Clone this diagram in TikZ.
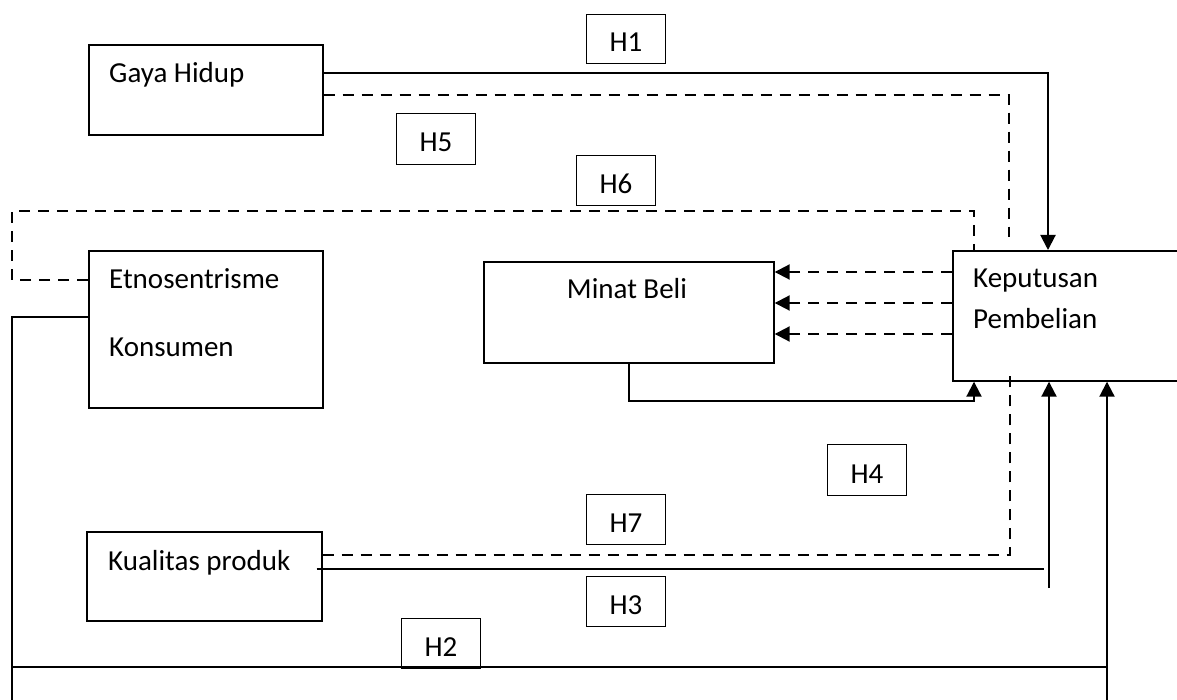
\documentclass[tikz,border=0pt]{standalone}
\usepackage{fontspec}
\setmainfont{Carlito}
\usetikzlibrary{arrows.meta,calc}
\begin{document}
\begin{tikzpicture}[x=1pt,y=-1pt,
  box/.style={draw, line width=1.7pt, rectangle, inner sep=0pt, anchor=north west},
  hbox/.style={draw, line width=1pt, rectangle, inner sep=0pt, anchor=north west,
    minimum width=79pt, minimum height=50pt, text height=26pt, text depth=0pt,
    font=\fontsize{29}{35}\selectfont},
  lbl/.style={anchor=base west, inner sep=0pt, font=\fontsize{29}{35}\selectfont},
  conn/.style={line width=2pt},
  dconn/.style={line width=2pt, dash pattern=on 11pt off 8pt},
  tip/.style={-{Triangle[length=15pt,width=15pt]}}
]
\useasboundingbox (0,0) rectangle (1177,700);
\clip (0,0) rectangle (1177,700);
\fill[white] (0,0) rectangle (1177,700);

% boxes
\node[box, minimum width=234pt, minimum height=90pt] (gaya) at (88,44) {};
\node[box, minimum width=234pt, minimum height=157pt] (etno) at (88,250) {};
\node[box, minimum width=290pt, minimum height=101pt] (minat) at (483,261) {};
\node[box, minimum width=250pt, minimum height=130pt] (kep) at (952,250) {};
\node[box, minimum width=235pt, minimum height=89pt] (kual) at (86,531) {};

% texts
\node[lbl] (tgaya) at (109,83) {Gaya Hidup};
\node[lbl] (tetno1) at (109,289) {Etnosentrisme};
\node[lbl] (tetno2) at (109,356) {Konsumen};
\node[lbl, anchor=base] (tminat) at (627,299) {Minat Beli};
\node[lbl] (tkep1) at (973,288) {Keputusan};
\node[lbl] (tkep2) at (973,329) {Pembelian};
\node[lbl] (tkual) at (108,570) {Kualitas produk};

% hypothesis labels
\node[hbox, minimum height=49pt] (h1) at (586,14) {H1};
\node[hbox, minimum height=51pt] (h5) at (396,113) {H5};
\node[hbox] (h6) at (576,155) {H6};
\node[hbox, minimum height=51pt] (h4) at (827,444) {H4};
\node[hbox] (h7) at (586,494) {H7};
\node[hbox] (h3) at (586,576) {H3};
\node[hbox] (h2) at (401,618) {H2};

% free ends
\coordinate (h3end) at (1044,569);
\coordinate (h3up) at (1049,588);
\coordinate (leftbot) at (12,705);
\coordinate (rightbot) at (1107,705);

% H1
\draw[conn,tip] ($(gaya.north east)+(0,29)$) -| ($(kep.north west)+(96,0)$);
% H5
\draw[dconn] ($(gaya.north east)+(0,51)$) -| ($(kep.north west)+(57,-13)$);
% H6
\draw[dconn] ($(etno.north west)+(0,30)$) -- (12,280) -- (12,211) -| ($(kep.north west)+(22,0)$);
% Etnosentrisme solid to bottom (H2)
\draw[conn] ($(etno.north west)+(0,67)$) -- (12,317) -- (leftbot);
\draw[conn] (12,667) -- (1107,667);
\draw[conn,tip] (rightbot) -- ($(kep.south west)+(155,0)$);
% Minat Beli -> Keputusan
\draw[conn,tip] ($(minat.south west)+(146,0)$) -- (629,401) -| ($(kep.south west)+(22,0)$);
% Keputusan -> Minat Beli (dashed)
\draw[dconn,tip] ($(kep.north west)+(0,22)$) -- ($(minat.north east)+(0,11)$);
\draw[dconn,tip] ($(kep.north west)+(0,53)$) -- ($(minat.north east)+(0,42)$);
\draw[dconn,tip] ($(kep.north west)+(0,84)$) -- ($(minat.north east)+(0,73)$);
% H7
\draw[dconn] ($(kual.north east)+(0,24)$) -| ($(kep.south west)+(58,-7)$);
% H3
\draw[conn] ($(kual.north east)+(-6,38)$) -- (h3end);
\draw[conn,tip] (h3up) -- ($(kep.south west)+(97,0)$);
\end{tikzpicture}
\end{document}
